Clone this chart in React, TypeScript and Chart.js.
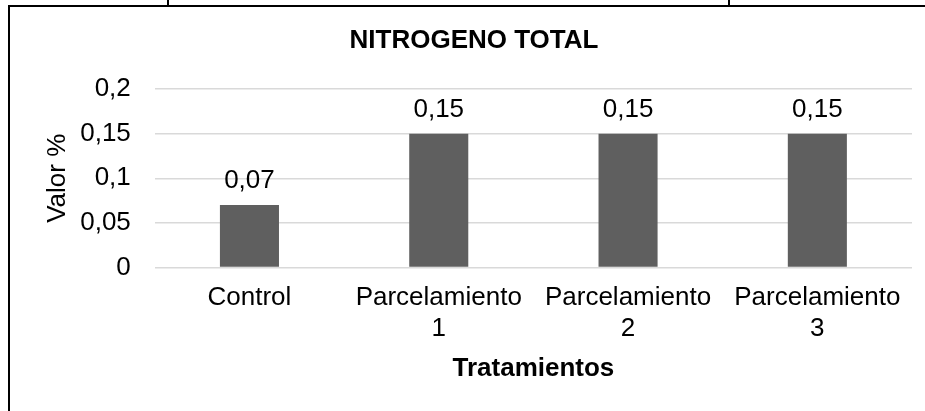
import React, { useEffect, useRef } from "react";
import { Chart, registerables } from "chart.js";

Chart.register(...registerables);

const categories: (string | string[])[] = [
  "Control",
  ["Parcelamiento", "1"],
  ["Parcelamiento", "2"],
  ["Parcelamiento", "3"],
];
const values: number[] = [0.07, 0.15, 0.15, 0.15];
const yTicks: number[] = [0, 0.05, 0.1, 0.15, 0.2];
const yTickLabels: string[] = ["0", "0,05", "0,1", "0,15", "0,2"];
const chartTitle = "NITROGENO TOTAL";
const xTitle = "Tratamientos";
const yTitle = "Valor %";

const FONT = '"Liberation Sans", Arial, sans-serif';

const dataLabelPlugin = {
  id: "dataLabels",
  afterDatasetsDraw(chart: any) {
    const ctx = chart.ctx;
    const meta = chart.getDatasetMeta(0);
    ctx.save();
    ctx.font = `26px ${FONT}`;
    ctx.fillStyle = "#000";
    ctx.textAlign = "center";
    ctx.textBaseline = "alphabetic";
    meta.data.forEach((el: any, i: number) => {
      ctx.fillText(String(values[i]).replace(".", ","), el.x, el.y - 17);
    });
    ctx.restore();
  },
};

export default function App() {
  const ref = useRef<HTMLCanvasElement | null>(null);

  useEffect(() => {
    if (!ref.current) return;
    const chart = new Chart(ref.current, {
      type: "bar",
      data: {
        labels: categories,
        datasets: [
          {
            data: values,
            backgroundColor: "#5f5f5f",
            borderWidth: 0,
            barPercentage: 0.312,
            categoryPercentage: 1,
          },
        ],
      },
      options: {
        responsive: false,
        animation: false,
        layout: { padding: { left: 26, right: 26, top: 0, bottom: 23 } },
        plugins: {
          legend: { display: false },
          tooltip: { enabled: false },
          title: {
            display: true,
            text: chartTitle,
            color: "#000",
            font: { family: FONT, size: 26, weight: "bold" },
            padding: { top: 18, bottom: 33 },
          },
        },
        scales: {
          x: {
            grid: { display: false, drawTicks: false },
            border: { display: false },
            ticks: {
              color: "#000",
              font: { family: FONT, size: 26 },
              padding: 15,
              maxRotation: 0,
              autoSkip: false,
            },
            title: {
              display: true,
              text: xTitle,
              color: "#000",
              font: { family: FONT, size: 26, weight: "bold" },
              padding: { top: -7, bottom: 4 },
            },
          },
          y: {
            min: 0,
            max: 0.2,
            afterBuildTicks: (axis: any) => {
              axis.ticks = yTicks.map((v) => ({ value: v }));
            },
            grid: { color: "#d9d9d9", lineWidth: 1.5, drawTicks: false },
            border: { display: false },
            ticks: {
              color: "#000",
              font: { family: FONT, size: 26 },
              padding: 24,
              callback: (_v: any, i: number) => yTickLabels[i],
            },
            title: {
              display: true,
              text: yTitle,
              color: "#000",
              font: { family: FONT, size: 26 },
              padding: { top: 6, bottom: -17 },
            },
          },
        },
      },
      plugins: [dataLabelPlugin],
    });
    return () => chart.destroy();
  }, []);

  return (
    <div
      style={{
        position: "fixed",
        left: 0,
        top: 0,
        width: 925,
        height: 411,
        overflow: "hidden",
        background: "#fff",
      }}
    >
      <div style={{ position: "absolute", left: 167, top: 0, width: 2, height: 6, background: "#000" }} />
      <div style={{ position: "absolute", left: 728, top: 0, width: 2, height: 6, background: "#000" }} />
      <div
        style={{
          position: "absolute",
          left: 8,
          top: 5,
          width: 1000,
          height: 500,
          borderLeft: "2px solid #000",
          borderTop: "2px solid #000",
        }}
      />
      <canvas
        ref={ref}
        width={928}
        height={404}
        style={{ position: "absolute", left: 10, top: 7 }}
      />
    </div>
  );
}
